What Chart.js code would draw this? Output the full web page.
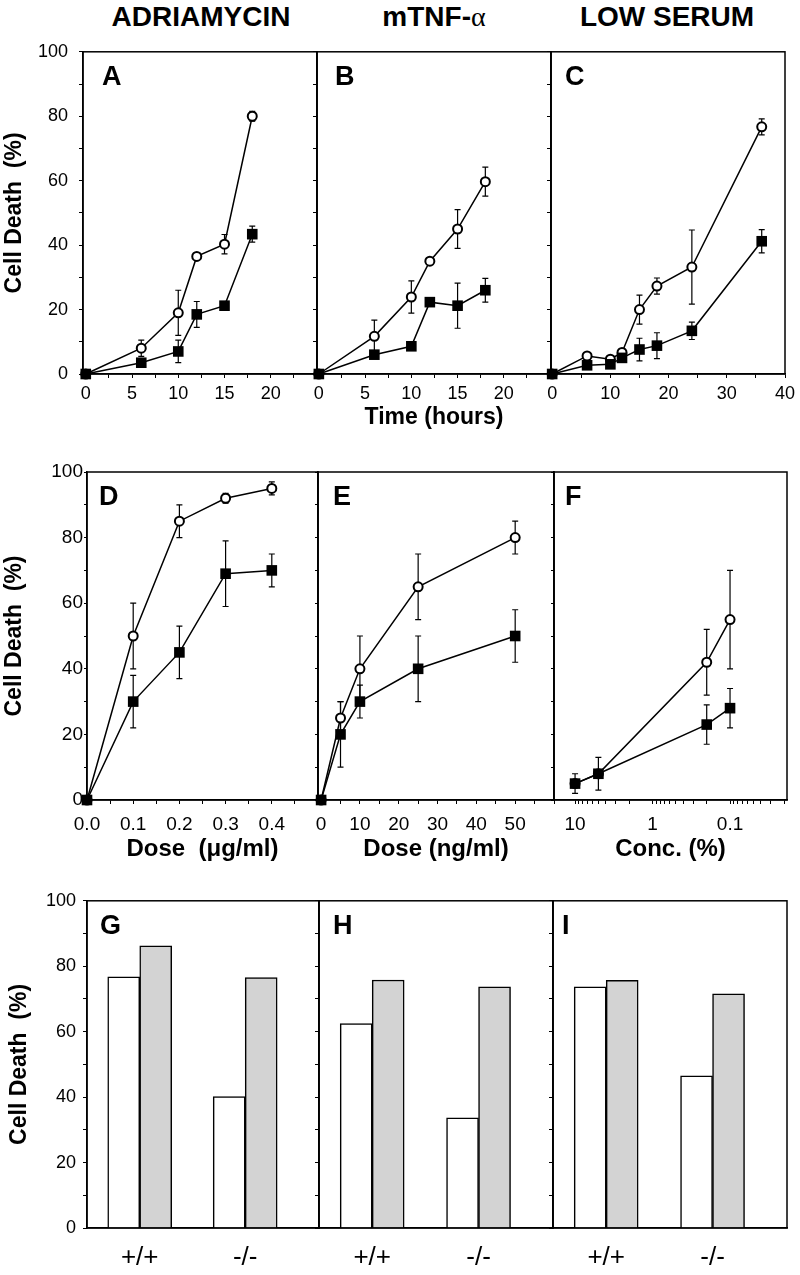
<!DOCTYPE html>
<html>
<head>
<meta charset="utf-8">
<script src="https://cdn.jsdelivr.net/npm/chart.js@4.4.1/dist/chart.umd.min.js"></script>
<style>
  body { margin: 0; width: 800px; height: 1275px; background: #fff; position: relative; overflow: hidden;
         font-family: 'Liberation Sans', Arial, sans-serif; }
  canvas { position: absolute; }
  .coltitle { position: absolute; top: 3px; width: 240px; text-align: center;
              font-weight: bold; font-size: 28px; line-height: 28px; }
</style>
</head>
<body>
<div class="coltitle" style="left:81px">ADRIAMYCIN</div>
<div class="coltitle" style="left:314px">mTNF-<span style="font-family:'Liberation Serif',serif;font-weight:normal">α</span></div>
<div class="coltitle" style="left:547px">LOW SERUM</div>
<script>
// ---- data ----
// time course (hours), panels A-C
const hoursAB = [0, 6, 10, 12, 15, 18];
const hoursC = [0, 6, 10, 12, 15, 18, 24, 36];

const adriaOpen = [0, 8, 19, 36.5, 40.3, 80];
const adriaOpenErr = [0, 2.5, 7, 1, 3, 1.5];
const adriaFilled = [0, 3.5, 7, 18.5, 21.2, 43.4];
const adriaFilledErr = [0, 1, 3.5, 4, 1, 2.5];

const tnfOpen = [0, 11.7, 23.9, 35, 45, 59.7];
const tnfOpenErr = [0, 5, 5, 1, 6, 4.5];
const tnfFilled = [0, 6, 8.6, 22.3, 21.2, 26];
const tnfFilledErr = [0, 1, 1, 1, 7, 3.7];

const serumOpen = [0, 5.6, 4.6, 6.7, 20, 27.3, 33.2, 76.7];
const serumOpenErr = [0, 1, 1, 1, 4.5, 2.5, 11.5, 2.5];
const serumFilled = [0, 2.7, 3, 5, 7.6, 8.8, 13.4, 41.2];
const serumFilledErr = [0, 1, 1, 1, 3.5, 4, 2.7, 3.6];

// dose response, panels D-F
const doseAdria = [0, 0.1, 0.2, 0.3, 0.4];          // ug/ml
const doseAdriaOpen = [0, 50, 85, 92, 95];
const doseAdriaOpenErr = [0, 10, 5, 1.5, 2];
const doseAdriaFilled = [0, 30, 45, 69, 70];
const doseAdriaFilledErr = [0, 8, 8, 10, 5];

const doseTnf = [0, 5, 10, 25, 50];                  // ng/ml
const doseTnfOpen = [0, 25, 40, 65, 80];
const doseTnfOpenErr = [0, 5, 10, 10, 5];
const doseTnfFilled = [0, 20, 30, 40, 50];
const doseTnfFilledErr = [0, 10, 5, 10, 8];

const serumConc = [10, 5, 0.2, 0.1];                 // %
const concOpen = [5, 8, 42, 55];
const concOpenErr = [0, 0, 10, 15];
const concFilled = [5, 8, 23, 28];
const concFilledErr = [3, 5, 6, 6];

// bars, panels G-I
const genotypes = ['+/+', '-/-'];
const adriaWhite = [76.8, 40.2];
const adriaGray = [86.2, 76.5];
const tnfWhite = [62.5, 33.7];
const tnfGray = [75.8, 73.7];
const serumWhite = [73.7, 46.5];
const serumGray = [75.7, 71.6];

// tick values
const yTicks = [0, 10, 20, 30, 40, 50, 60, 70, 80, 90, 100];
const hourTicks25 = [0, 2.5, 5, 7.5, 10, 12.5, 15, 17.5, 20, 22.5, 25];
const hourTicks40 = [0, 5, 10, 15, 20, 25, 30, 35, 40];
const ugTicks = [0, 0.05, 0.1, 0.15, 0.2, 0.25, 0.3, 0.35, 0.4, 0.45, 0.5];
const ngTicks = [0, 5, 10, 15, 20, 25, 30, 35, 40, 45, 50, 55, 60];
const concTicks = [10, 9, 8, 7, 6, 5, 4, 3, 2, 1, 0.9, 0.8, 0.7, 0.6, 0.5, 0.4, 0.3, 0.2, 0.1,
                   0.09, 0.08, 0.07, 0.06, 0.05, 0.04, 0.03, 0.02];
const concLabels = [10, 1, 0.1];

// ---- drawing ----
Chart.defaults.font.family = "'Liberation Sans', Arial, sans-serif";
Chart.defaults.color = '#000';
const FONT = "'Liberation Sans', Arial, sans-serif";
const PAD_T = 16, PAD_R = 16;

const errorBars = {
  id: 'errorBars',
  beforeDatasetsDraw(chart) {
    const ctx = chart.ctx;
    const xs = chart.scales.x, ys = chart.scales.y;
    ctx.save();
    ctx.strokeStyle = '#000';
    ctx.lineWidth = 1.2;
    chart.data.datasets.forEach(ds => {
      if (!ds.errors) return;
      ds.data.forEach((p, i) => {
        const e = ds.errors[i];
        if (!e) return;
        const x = xs.getPixelForValue(p.x);
        const y1 = ys.getPixelForValue(p.y + e);
        const y2 = ys.getPixelForValue(p.y - e);
        ctx.beginPath();
        ctx.moveTo(x, y1); ctx.lineTo(x, y2);
        ctx.moveTo(x - 3, y1); ctx.lineTo(x + 3, y1);
        ctx.moveTo(x - 3, y2); ctx.lineTo(x + 3, y2);
        ctx.stroke();
      });
    });
    ctx.restore();
  }
};

const frame = {
  id: 'frame',
  afterDraw(chart, args, opts) {
    const { ctx, chartArea: a } = chart;
    ctx.save();
    ctx.strokeStyle = '#000';
    ctx.lineWidth = 1.5;
    ctx.strokeRect(a.left, a.top, a.right - a.left, a.bottom - a.top);
    ctx.fillStyle = '#000';
    ctx.font = 'bold 27px ' + FONT;
    ctx.textBaseline = 'alphabetic';
    ctx.textAlign = 'left';
    ctx.fillText(opts.letter, a.left + opts.dx, a.top + 33);
    ctx.restore();
  }
};

function lineSets(xs, open, openErr, filled, filledErr) {
  const common = { borderColor: '#000', borderWidth: 1.5, tension: 0, fill: false, clip: false };
  return [
    { ...common, data: xs.map((x, i) => ({ x: x, y: filled[i] })), errors: filledErr,
      pointStyle: 'rect', pointRadius: 7.5, pointBackgroundColor: '#000', pointBorderColor: '#000', pointBorderWidth: 0 },
    { ...common, data: xs.map((x, i) => ({ x: x, y: open[i] })), errors: openErr,
      pointStyle: 'circle', pointRadius: 4.5, pointBackgroundColor: '#fff', pointBorderColor: '#000', pointBorderWidth: 2 },
  ];
}

function barSets(white, gray) {
  return [
    { data: white.map((v, i) => ({ x: i + 1, y: v })), backgroundColor: '#fff', borderColor: '#000', borderWidth: 1.5, barThickness: 32 },
    { data: gray.map((v, i) => ({ x: i + 1, y: v })), backgroundColor: '#d3d3d3', borderColor: '#000', borderWidth: 1.5, barThickness: 32 },
  ];
}

function makePanel(p) {
  const W = p.right - p.left + p.padL + PAD_R;
  const H = p.bottom - p.top + PAD_T + p.padB;
  const canvas = document.createElement('canvas');
  canvas.width = W;
  canvas.height = H;
  canvas.style.left = (p.left - p.padL) + 'px';
  canvas.style.top = (p.top - PAD_T) + 'px';
  canvas.style.width = W + 'px';
  canvas.style.height = H + 'px';
  document.body.appendChild(canvas);

  const x = Object.assign({
    type: 'linear',
    offset: false,
    afterBuildTicks: s => { s.ticks = p.xTicks.map(v => ({ value: v })); },
    afterFit: s => { s.height = p.padB; },
    ticks: { autoSkip: false, maxRotation: 0, minRotation: 0, callback: p.xLabel,
             font: { size: p.xFont }, padding: p.xPad },
    grid: { display: p.xGrid !== false, drawOnChartArea: false, tickLength: 4, color: '#000', offset: false },
    border: { color: '#000', width: 1.5 },
    title: { display: !!p.xTitle, text: p.xTitle || '', font: { size: p.xTitleSize || 23, weight: 'bold' },
             padding: { top: 0, bottom: 4 } },
  }, p.xScale);

  const y = {
    min: 0, max: 100,
    afterBuildTicks: s => { s.ticks = yTicks.map(v => ({ value: v })); },
    afterFit: s => { s.width = p.padL; },
    ticks: { autoSkip: false, callback: v => (p.yLabels && v % 20 === 0) ? String(v) : '',
             font: { size: p.yFont }, padding: p.yPad },
    grid: { drawOnChartArea: false, tickLength: p.yTickLen, color: '#000' },
    border: { color: '#000', width: 1.5 },
    title: { display: p.yLabels, text: 'Cell Death  (%)', font: { size: 23, weight: 'bold' },
             padding: { top: p.yTitlePad, bottom: 0 } },
  };

  return new Chart(canvas, {
    type: p.type,
    data: { datasets: p.datasets },
    options: {
      responsive: false,
      animation: false,
      events: [],
      layout: { padding: { top: PAD_T, right: PAD_R, left: 0, bottom: 0 } },
      plugins: { legend: { display: false }, tooltip: { enabled: false }, frame: { letter: p.letter, dx: p.dx } },
      scales: { x: x, y: y },
    },
    plugins: [errorBars, frame],
  });
}

const labelEvery = (step, maxLabel, fmt) => v =>
  (Math.abs(v / step - Math.round(v / step)) < 1e-6 && v <= maxLabel + 1e-9) ? (fmt ? fmt(v) : String(v)) : '';

// row 1: time courses
const row1 = { type: 'line', top: 46, bottom: 374, padB: 61, xFont: 18, xPad: 5, yFont: 18, yPad: 11, yTickLen: 4, yTitlePad: 1 };
makePanel({ ...row1, letter: 'A', dx: 19, left: 83, right: 317, padL: 83, yLabels: true,
  xScale: { min: -0.3, max: 25 }, xTicks: hourTicks25, xLabel: labelEvery(5, 20),
  datasets: lineSets(hoursAB, adriaOpen, adriaOpenErr, adriaFilled, adriaFilledErr) });
makePanel({ ...row1, letter: 'B', dx: 18, left: 317, right: 551, padL: 40, yLabels: false,
  xScale: { min: -0.2, max: 25.1 }, xTicks: hourTicks25, xLabel: labelEvery(5, 20), xTitle: 'Time (hours)',
  datasets: lineSets(hoursAB, tnfOpen, tnfOpenErr, tnfFilled, tnfFilledErr) });
makePanel({ ...row1, letter: 'C', dx: 14, left: 551, right: 785, padL: 40, yLabels: false,
  xScale: { min: -0.2, max: 40 }, xTicks: hourTicks40, xLabel: labelEvery(10, 40),
  datasets: lineSets(hoursC, serumOpen, serumOpenErr, serumFilled, serumFilledErr) });

// row 2: dose responses
const row2 = { type: 'line', top: 472, bottom: 800, padB: 68, xFont: 19, xPad: 9, yFont: 19, yPad: 1, yTickLen: 3, yTitlePad: 1, xTitleSize: 24 };
makePanel({ ...row2, letter: 'D', dx: 12, left: 87, right: 318, padL: 87, yLabels: true,
  xScale: { min: 0, max: 0.5 }, xTicks: ugTicks, xLabel: labelEvery(0.1, 0.4, v => v.toFixed(1)), xTitle: 'Dose  (μg/ml)',
  datasets: lineSets(doseAdria, doseAdriaOpen, doseAdriaOpenErr, doseAdriaFilled, doseAdriaFilledErr) });
makePanel({ ...row2, letter: 'E', dx: 15, left: 318, right: 554, padL: 40, yLabels: false,
  xScale: { min: -0.8, max: 60 }, xTicks: ngTicks, xLabel: labelEvery(10, 50), xTitle: 'Dose (ng/ml)',
  datasets: lineSets(doseTnf, doseTnfOpen, doseTnfOpenErr, doseTnfFilled, doseTnfFilledErr) });
makePanel({ ...row2, letter: 'F', dx: 11, left: 554, right: 787, padL: 40, yLabels: false,
  xScale: { type: 'logarithmic', reverse: true, min: 0.0184, max: 18.7 }, xTicks: concTicks,
  xLabel: v => concLabels.some(c => Math.abs(c - v) < 1e-9) ? String(v) : '', xTitle: 'Conc. (%)',
  datasets: lineSets(serumConc, concOpen, concOpenErr, concFilled, concFilledErr) });

// row 3: bars
const row3 = { type: 'bar', top: 899, bottom: 1228, padB: 50, xFont: 26, xPad: 10, xGrid: false, yFont: 18, yPad: 7, yTickLen: 4, yTitlePad: 6,
  xScale: { min: 0.5, max: 2.7 }, xTicks: [1, 2], xLabel: (v, i) => genotypes[i] };
makePanel({ ...row3, letter: 'G', dx: 13, left: 87, right: 319, padL: 87, yLabels: true, datasets: barSets(adriaWhite, adriaGray) });
makePanel({ ...row3, letter: 'H', dx: 14, left: 319, right: 553, padL: 40, yLabels: false, datasets: barSets(tnfWhite, tnfGray) });
makePanel({ ...row3, letter: 'I', dx: 9, left: 553, right: 787, padL: 40, yLabels: false, datasets: barSets(serumWhite, serumGray) });
</script>
</body>
</html>
